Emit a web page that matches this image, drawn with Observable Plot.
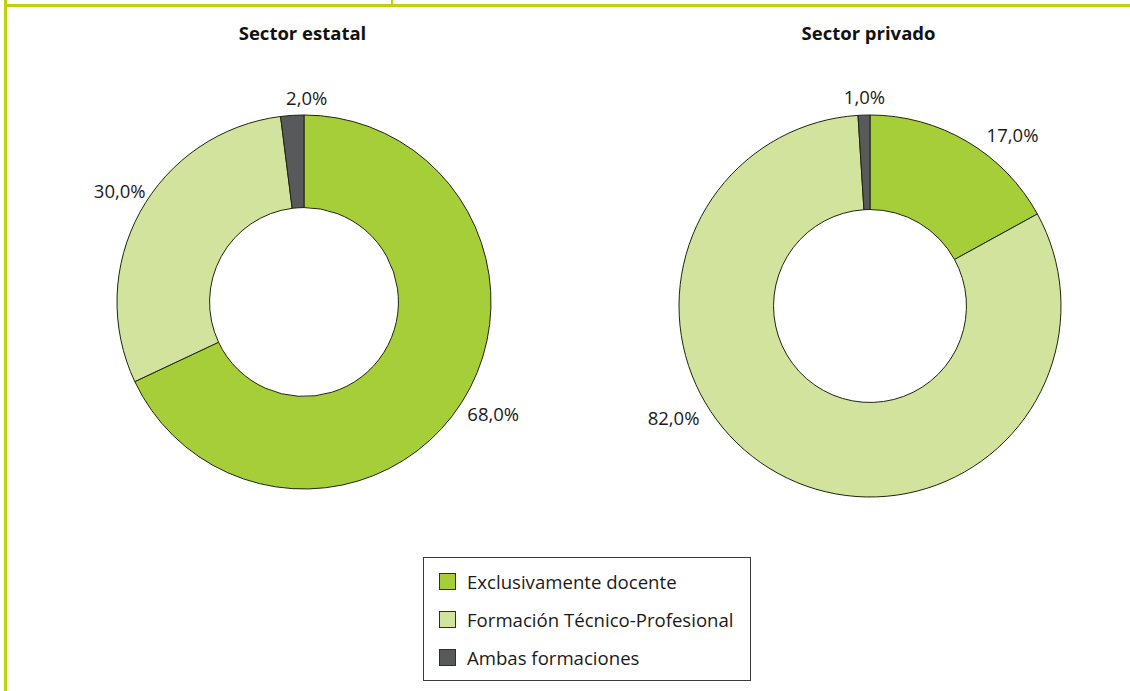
<!DOCTYPE html>
<html>
<head>
<meta charset="utf-8">
<script src="https://cdn.jsdelivr.net/npm/d3@7"></script>
<script src="https://cdn.jsdelivr.net/npm/@observablehq/plot@0.6"></script>
<style>
  html, body { margin: 0; padding: 0; background: #fff; }
  body { width: 1130px; height: 691px; position: relative; overflow: hidden; font-family: "Open Sans", sans-serif; }
  .frame-top { position: absolute; left: 4px; top: 4px; width: 1126px; height: 3px; background: #bdd20b; }
  .frame-left { position: absolute; left: 4px; top: 0; width: 3px; height: 691px; background: #bdd20b; }
  .frame-tick { position: absolute; left: 391px; top: 0; width: 2px; height: 5px; background: #bdd20b; }
  #chart { position: absolute; left: 0; top: 0; }
  #legend { position: absolute; left: 423px; top: 557px; width: 328px; height: 124px; box-sizing: border-box;
            border: 1px solid #3a3a3a; background: #fff; }
  .row { position: absolute; left: 15px; height: 20px; display: flex; align-items: center; font-size: 18.6px; color: #1a1a1a; white-space: nowrap; }
  .sw { width: 17px; height: 17px; box-sizing: border-box; border: 1px solid #2a3512; margin-right: 11px; }
</style>
</head>
<body>
<div class="frame-left"></div>
<div class="frame-top"></div>
<div class="frame-tick"></div>
<div id="chart"></div>
<div id="legend"></div>
<script>
// ---- data ----
const sectors = ["Sector estatal", "Sector privado"];
const categories = ["Exclusivamente docente", "Formación Técnico-Profesional", "Ambas formaciones"];
const estatalValues = [68, 30, 2];
const privadoValues = [17, 82, 1];
const colors = ["#a6ce39", "#d2e39e", "#58595b"];

// ---- layout ----
const layout = {
  "Sector estatal": {cx: 304, cy: 302, r: 187},
  "Sector privado": {cx: 870, cy: 306, r: 191}
};
const labelGap = 33;
const labelNudge = {
  "Sector estatal": [[3, -5], [8, -4], [16, 16]],
  "Sector privado": [[28, 22], [-89, -84], [1, 15]]
};

const valuesBySector = {"Sector estatal": estatalValues, "Sector privado": privadoValues};
const pie = d3.pie().sort(null).value(d => d.value);

const slices = [];
for (const s of sectors) {
  const rows = categories.map((c, i) => ({sector: s, category: c, value: valuesBySector[s][i], i}));
  pie(rows).forEach(a => slices.push({...a.data, startAngle: a.startAngle, endAngle: a.endAngle}));
}
const fmt = v => v.toFixed(1).replace(".", ",") + "%";
const labels = slices.map(d => {
  const L = layout[d.sector];
  const mid = (d.startAngle + d.endAngle) / 2;
  const dist = L.r + labelGap;
  const n = labelNudge[d.sector][d.i];
  return {
    x: L.cx + dist * Math.sin(mid) + n[0],
    y: L.cy - dist * Math.cos(mid) + n[1],
    text: fmt(d.value)
  };
});

const colorScale = d3.scaleOrdinal(categories, colors);

function donuts() {
  const g = d3.create("svg:g");
  const arc = d3.arc();
  g.selectAll("path")
    .data(slices)
    .join("path")
    .attr("transform", d => `translate(${layout[d.sector].cx},${layout[d.sector].cy})`)
    .attr("d", d => arc({innerRadius: layout[d.sector].r * 0.505, outerRadius: layout[d.sector].r,
                         startAngle: d.startAngle, endAngle: d.endAngle}))
    .attr("fill", d => colorScale(d.category))
    .attr("stroke", "#1e260c")
    .attr("stroke-width", 1)
    .attr("stroke-linejoin", "round");
  return g.node();
}

const plot = Plot.plot({
  width: 1130,
  height: 550,
  x: {type: "identity", axis: null},
  y: {type: "identity", axis: null},
  style: {background: "transparent", fontFamily: "'Open Sans', sans-serif", overflow: "visible"},
  marks: [
    donuts,
    Plot.text(sectors, {x: s => layout[s].cx - 2, y: 34, text: d => d, fontWeight: "bold", fontSize: 18.5, fill: "#111"}),
    Plot.text(labels, {x: "x", y: "y", text: "text", fontSize: 18.5, fill: "#1a1a1a"})
  ]
});
document.getElementById("chart").appendChild(plot);

// legend
const legend = document.getElementById("legend");
categories.forEach((c, i) => {
  const row = document.createElement("div");
  row.className = "row";
  row.style.top = (13 + i * 38) + "px";
  const sw = document.createElement("div");
  sw.className = "sw";
  sw.style.background = colors[i];
  const t = document.createElement("span");
  t.textContent = c;
  row.appendChild(sw);
  row.appendChild(t);
  legend.appendChild(row);
});
</script>
</body>
</html>
